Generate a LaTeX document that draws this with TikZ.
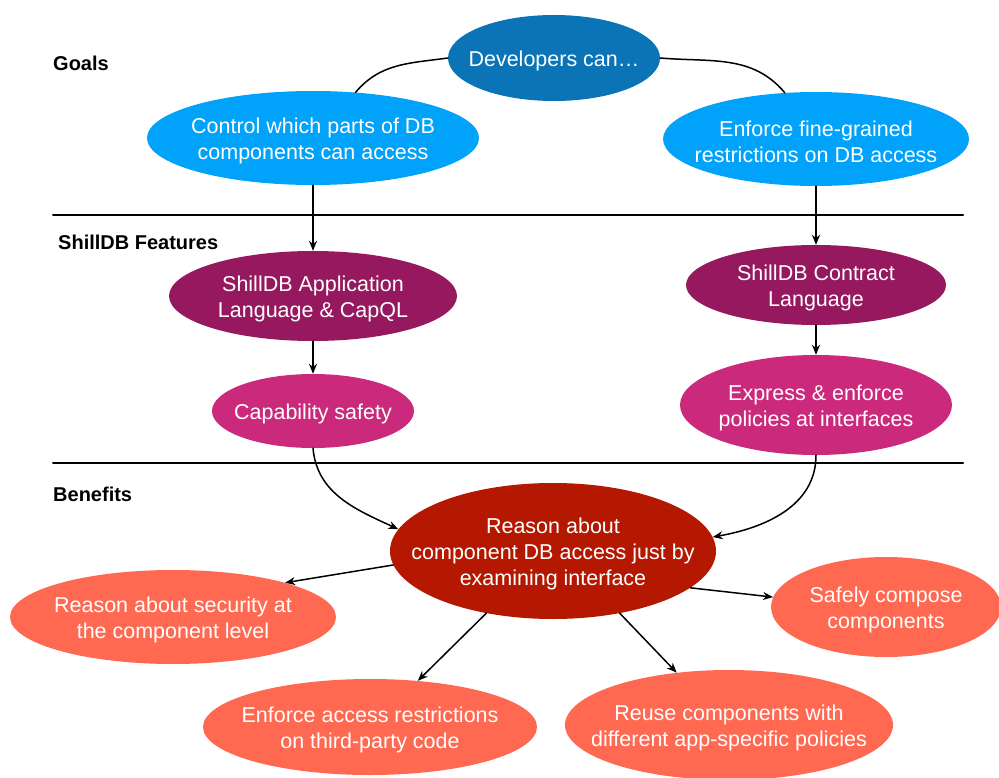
\documentclass[tikz,border=0pt]{standalone}
\usepackage{fontspec}
\setmainfont{Liberation Sans}
\usetikzlibrary{shapes.geometric,arrows.meta}
\definecolor{devblue}{RGB}{10,116,182}
\definecolor{goalblue}{RGB}{0,162,250}
\definecolor{featdark}{RGB}{150,25,95}
\definecolor{featpink}{RGB}{203,42,124}
\definecolor{benemain}{RGB}{180,24,0}
\definecolor{benelight}{RGB}{255,105,82}
\begin{document}
\begin{tikzpicture}[x=1pt,y=-1pt,line join=round,line cap=round,>={Stealth[length=10pt,width=8pt]},
	bubble/.style n args={2}{ellipse,inner sep=0pt,minimum width=#1pt,minimum height=#2pt},
	txt/.style={inner sep=0pt,yshift=-3pt,text=white,align=center,font=\fontsize{21.5}{26}\selectfont},
	head/.style={anchor=west,inner sep=0pt,font=\bfseries\fontsize{20}{24}\selectfont},
	link/.style={line width=1.5pt}]
			\useasboundingbox (0,0) rectangle (999,778);
			\def\xmin{53} \def\xmax{963}
			% section headings and separators
			\node[head] (goals) at (53,63) {Goals};
			\node[head] (feat) at (58,242) {ShillDB Features};
			\node[head] (bene) at (53,494) {Benefits};
			\foreach \y in {215,463}
			\draw[line width=2pt] (\xmin,\y)--(\xmax,\y);
			% goals
			\node[bubble={212}{86},fill=devblue,label={[txt]center:Developers can…}] (dev) at (554,58) {};
			\node[bubble={332}{94},fill=goalblue,label={[txt]center:Control which parts of DB\\components can access}] (ctrl) at (313,138) {};
			\node[bubble={306}{94},fill=goalblue,label={[txt]center:Enforce fine-grained\\restrictions on DB access}] (enf) at (816,139) {};
			% features
			\node[bubble={288}{90},fill=featdark,label={[txt]center:ShillDB Application\\Language \& CapQL}] (app) at (313,296) {};
			\node[bubble={260}{80},fill=featdark,label={[txt]center:ShillDB Contract\\Language}] (con) at (816,285) {};
			\node[bubble={202}{74},fill=featpink,label={[txt]center:Capability safety}] (cap) at (313,411) {};
			\node[bubble={272}{100},fill=featpink,label={[txt]center:Express \& enforce\\policies at interfaces}] (expr) at (816,405) {};
			% benefits
			\node[bubble={326}{136},fill=benemain,label={[txt]center:Reason about\\component DB access just by\\examining interface}] (rsn) at (553,551) {};
			\node[bubble={326}{94},fill=benelight,label={[txt]center:Reason about security at\\the component level}] (sec) at (173,617) {};
			\node[bubble={230}{100},fill=benelight,label={[txt]center:Safely compose\\components}] (safe) at (886,607) {};
			\node[bubble={334}{96},fill=benelight,label={[txt]center:Enforce access restrictions\\on third-party code}] (acc) at (370,727) {};
			\node[bubble={328}{110},fill=benelight,label={[txt]center:Reuse components with\\different app-specific policies}] (reuse) at (729,725) {};
			% connectors
			\draw[link] (dev.west) to[out=188,in=50] (ctrl.47);
			\draw[link] (dev.east) to[out=-5,in=130] (enf.124);
			\foreach \a/\b in {ctrl/app,enf/con,app/cap,con/expr}
			\draw[link,->] (\a.south)--(\b.north);
			\draw[link,->] (cap.south) to[out=-85,in=155] (rsn.172);
			\draw[link,->] (expr.south) to[out=-90,in=10] (rsn.5);
			\foreach \a/\b in {185/sec.17,-15/safe.175,223/acc.44,-43/reuse.135}
			\draw[link,->] (rsn.\a)--(\b);
		\end{tikzpicture}
\end{document}
